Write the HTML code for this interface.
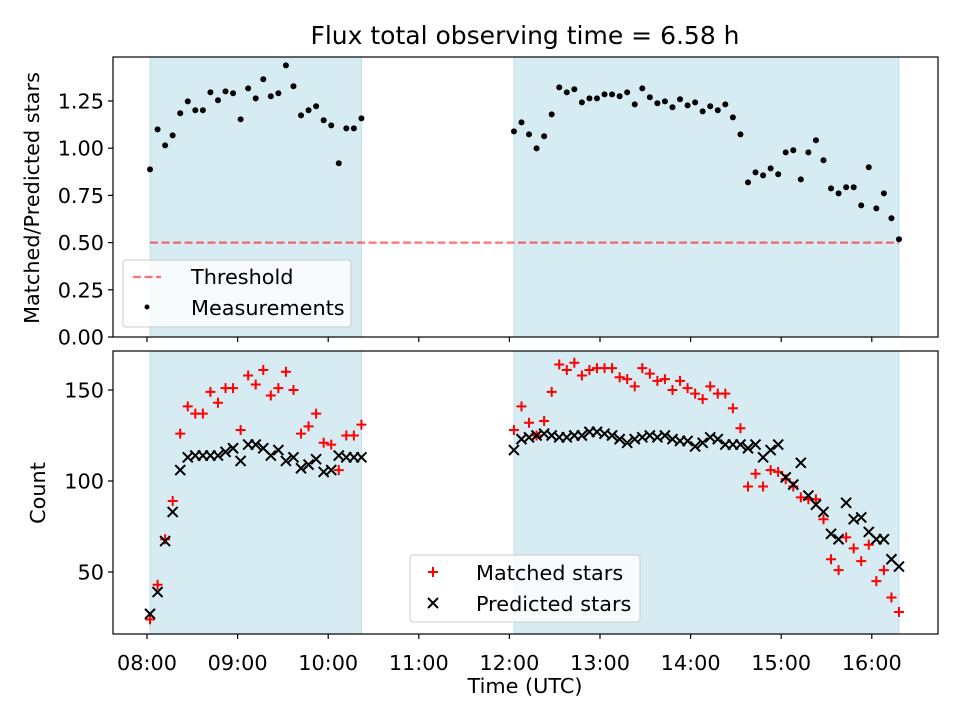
<!DOCTYPE html>
<html><head><meta charset="utf-8"><style>
body{margin:0;background:#fff}
svg{display:block;font-family:"DejaVu Sans","Liberation Sans",sans-serif}
</style></head><body>
<svg id="chart" width="960" height="720" viewBox="0 0 960 720" xmlns="http://www.w3.org/2000/svg">
<rect width="960" height="720" fill="#fff"/>
<text x="525" y="44" font-size="25" text-anchor="middle">Flux total observing time = 6.58 h</text>
<g id="topPanel"></g><g id="botPanel"></g>
</svg>
<script>
// segment start times (minutes after midnight), 5-min cadence
const seg1Start = 482; // 08:02
const seg2Start = 723; // 12:03
const stepMin = 5;
const shadeSpans = [[482, 622], [723, 978]];
const ratio1 = [0.888,1.100,1.015,1.068,1.185,1.248,1.201,1.201,1.296,1.254,1.301,1.291,1.153,1.317,1.264,1.365,1.275,1.291,1.439,1.328,1.174,1.201,1.222,1.148,1.121,0.920,1.105,1.105,1.158];
const ratio2 = [1.089,1.137,1.073,0.999,1.063,1.179,1.322,1.296,1.312,1.243,1.264,1.264,1.285,1.285,1.275,1.296,1.232,1.317,1.270,1.238,1.248,1.217,1.259,1.227,1.243,1.195,1.222,1.201,1.232,1.163,1.073,0.819,0.872,0.856,0.893,0.862,0.978,0.989,0.835,0.978,1.042,0.936,0.787,0.761,0.793,0.793,0.697,0.899,0.681,0.761,0.629,0.518];
const matched1 = [24,43,68,89,126,141,137,137,149,143,151,151,128,158,153,161,147,151,160,150,126,130,137,121,120,106,125,125,131];
const predicted1 = [27,39,67,83,106,113,114,114,114,114,116,118,111,120,120,118,114,117,111,113,107,109,112,105,106,114,113,113,113];
const matched2 = [128,141,132,125,133,149,164,161,165,158,161,162,162,162,157,156,152,162,159,155,156,150,155,151,148,145,152,148,148,140,129,97,104,97,106,105,101,97,91,90,90,79,57,51,69,63,56,65,45,51,36,28];
const predicted2 = [117,123,124,125,126,125,124,124,125,125,127,127,126,125,123,121,123,124,125,124,125,123,122,122,119,121,124,123,120,120,120,118,120,113,117,120,102,98,110,92,87,83,71,68,88,79,80,72,68,68,57,53];
const threshold = 0.5;
const topTicks = [0, 0.25, 0.5, 0.75, 1.0, 1.25];
const botTicks = [50, 100, 150];
const xTickHours = [8,9,10,11,12,13,14,15,16];

const NS = "http://www.w3.org/2000/svg";
const FS = 20.8;
const L = 113, R = 938;
const X = m => 147 + (m / 60 - 8) * 90.6;
const YT = v => 337 - v * 188.8;
const YB = v => 481 - (v - 100) * 1.82;
function mk(tag, attrs, parent, txt) {
  const e = document.createElementNS(NS, tag);
  for (const k in attrs) e.setAttribute(k, attrs[k]);
  if (txt !== undefined) e.textContent = txt;
  parent.appendChild(e); return e;
}
const topG = document.getElementById('topPanel'), botG = document.getElementById('botPanel');
function panel(g, y0, y1, yfn, ticks, fmt, name) {
  shadeSpans.forEach(s => {
    const r = mk('rect', {x: X(s[0]), y: y0, width: X(s[1]) - X(s[0]), height: y1 - y0, fill: '#add8e6', 'fill-opacity': 0.5, stroke: '#add8e6', 'stroke-opacity': 0.7}, g);
    
    
  });
  ticks.forEach(t => {
    const y = yfn(t);
    mk('line', {x1: L - 5, x2: L, y1: y, y2: y, stroke: '#000', 'stroke-width': 1.2}, g);
    const tx = mk('text', {x: L - 9, y: y + 7.5, 'font-size': FS, 'text-anchor': 'end'}, g, fmt(t));
    
    
  });
  xTickHours.forEach(h => {
    const x = X(h * 60);
    mk('line', {x1: x, x2: x, y1: y1, y2: y1 + 5, stroke: '#000', 'stroke-width': 1.2}, g);
  });
}
panel(topG, 57, 337, YT, topTicks, t => t.toFixed(2), 'top');
panel(botG, 351, 634, YB, botTicks, t => String(t), 'bottom');

const th = mk('line', {x1: X(seg1Start), x2: X(seg2Start + stepMin * (ratio2.length - 1)), y1: YT(threshold), y2: YT(threshold), stroke: '#ff0000', 'stroke-opacity': 0.55, 'stroke-width': 2.2, 'stroke-dasharray': '8,3.5'}, topG);


[[ratio1, seg1Start], [ratio2, seg2Start]].forEach(([arr, s0]) => arr.forEach((v, i) => {
  const c = mk('circle', {cx: X(s0 + i * stepMin), cy: YT(v), r: 3, fill: '#000'}, topG);
  
  
}));
function plus(x, y, g) {
  const p = mk('path', {d: `M${x-5},${y}H${x+5}M${x},${y-5}V${y+5}`, stroke: '#ff0000', 'stroke-width': 2, fill: 'none'}, g);
  
  
}
function cross(x, y, g) {
  const p = mk('path', {d: `M${x-5},${y-5}L${x+5},${y+5}M${x-5},${y+5}L${x+5},${y-5}`, stroke: '#000', 'stroke-width': 2, fill: 'none'}, g);
  
  
}
[[matched1, seg1Start], [matched2, seg2Start]].forEach(([arr, s0]) => arr.forEach((v, i) => plus(X(s0 + i * stepMin), YB(v), botG)));
[[predicted1, seg1Start], [predicted2, seg2Start]].forEach(([arr, s0]) => arr.forEach((v, i) => cross(X(s0 + i * stepMin), YB(v), botG)));

[[57, 337, topG], [351, 634, botG]].forEach(([a, b, g]) => mk('rect', {x: L, y: a, width: R - L, height: b - a, fill: 'none', stroke: '#000', 'stroke-width': 1.2}, g));
xTickHours.forEach(h => {
  const t = mk('text', {x: X(h * 60), y: 670, 'font-size': FS, 'text-anchor': 'middle'}, botG, (h < 10 ? '0' : '') + h + ':00');
  
  
});
let t = mk('text', {x: 525, y: 693, 'font-size': FS, 'text-anchor': 'middle'}, botG, 'Time (UTC)');
 
t = mk('text', {x: 39, y: 198, 'font-size': FS, 'text-anchor': 'middle', transform: 'rotate(-90 39 198)'}, topG, 'Matched/Predicted stars');
 
t = mk('text', {x: 45, y: 493, 'font-size': FS, 'text-anchor': 'middle', transform: 'rotate(-90 45 493)'}, botG, 'Count');
 

let lg = mk('g', {}, topG);
 
mk('rect', {x: 123, y: 260, width: 228, height: 67, rx: 3, fill: '#fff', 'fill-opacity': 0.8, stroke: '#ccc'}, lg);
mk('line', {x1: 133, x2: 161, y1: 277, y2: 277, stroke: '#ff0000', 'stroke-opacity': 0.55, 'stroke-width': 2.2, 'stroke-dasharray': '8,3.5'}, lg);
mk('text', {x: 191, y: 284, 'font-size': FS}, lg, 'Threshold');
mk('circle', {cx: 147, cy: 307, r: 2.5, fill: '#000'}, lg);
mk('text', {x: 191, y: 315, 'font-size': FS}, lg, 'Measurements');
lg = mk('g', {}, botG);
 
mk('rect', {x: 410, y: 555, width: 230, height: 67, rx: 3, fill: '#fff', 'fill-opacity': 0.8, stroke: '#ccc'}, lg);
mk('path', {d: 'M428,572H438M433,567V577', stroke: '#ff0000', 'stroke-width': 2}, lg);
mk('path', {d: 'M428,598L438,608M428,608L438,598', stroke: '#000', 'stroke-width': 2}, lg);
mk('text', {x: 476, y: 580, 'font-size': FS}, lg, 'Matched stars');
mk('text', {x: 476, y: 611, 'font-size': FS}, lg, 'Predicted stars');
</script>
</body></html>
